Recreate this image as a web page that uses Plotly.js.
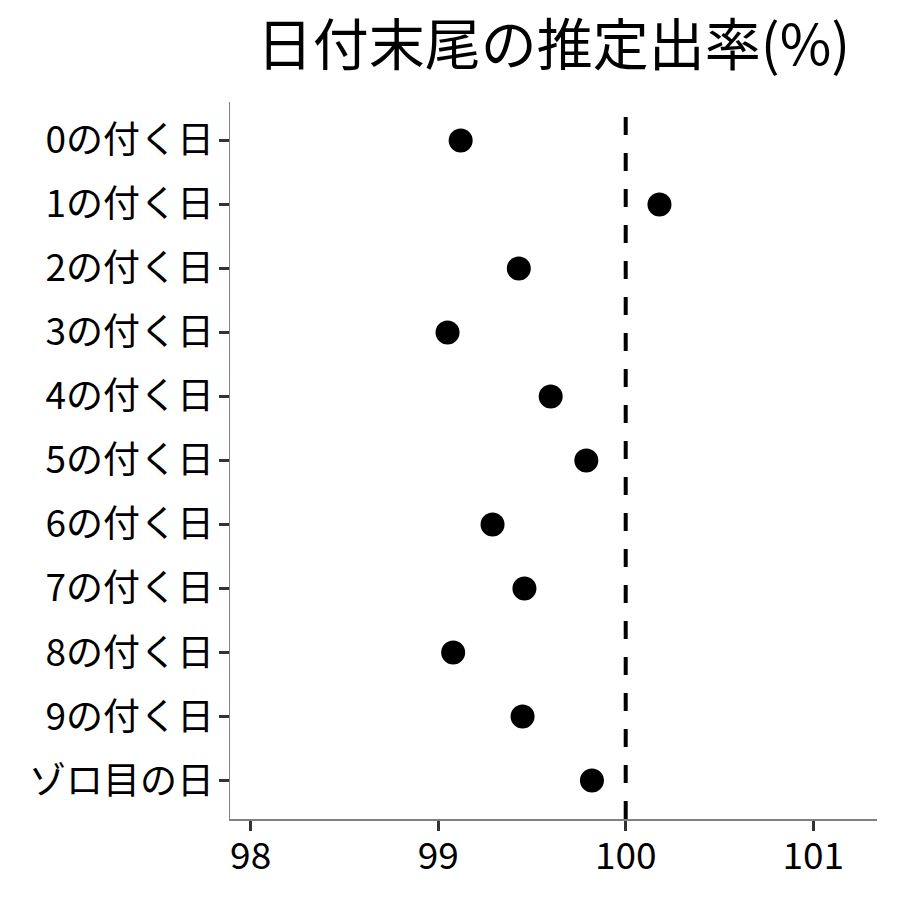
<!DOCTYPE html>
<html>
<head>
<meta charset="utf-8">
<script src="https://cdn.plot.ly/plotly-3.0.1.min.js"></script>
<style>html,body{margin:0;padding:0;background:#fff;}#chart{width:900px;height:900px;}</style>
</head>
<body>
<div id="chart"></div>
<script>
const categories = ["0の付く日","1の付く日","2の付く日","3の付く日","4の付く日","5の付く日","6の付く日","7の付く日","8の付く日","9の付く日","ゾロ目の日"];
const rates = [99.12, 100.18, 99.43, 99.05, 99.60, 99.79, 99.29, 99.46, 99.08, 99.45, 99.82];
const xTicks = [98, 99, 100, 101];
const referenceRate = 100;
const titleText = "日付末尾の推定出率(%)";

const font = "Noto Sans CJK JP, Noto Sans, sans-serif";

const trace = {
  type: "scatter",
  mode: "markers",
  x: rates,
  y: categories,
  marker: {color: "#000000", size: 24},
  cliponaxis: false,
  hoverinfo: "x+y"
};

const layout = {
  width: 900, height: 900,
  margin: {l: 230, r: 23, t: 102, b: 81, pad: 0},
  paper_bgcolor: "#ffffff",
  plot_bgcolor: "#ffffff",
  showlegend: false,
  title: {
    text: titleText,
    font: {family: font, size: 56, color: "#000000"},
    x: 0.5, xref: "paper",
    y: 0.95, yref: "container", yanchor: "middle"
  },
  xaxis: {
    range: [97.89, 101.34],
    tickvals: xTicks,
    ticktext: xTicks.map(String),
    showgrid: false, zeroline: false,
    showline: true, linecolor: "#808080", linewidth: 1.5,
    ticks: "outside", ticklen: 10, tickwidth: 3, tickcolor: "#333333",
    tickfont: {family: font, size: 37, color: "#000000"},
    ticklabelstandoff: -6
  },
  yaxis: {
    type: "category",
    categoryorder: "array",
    categoryarray: categories,
    range: [10.6, -0.6],
    showgrid: false, zeroline: false,
    showline: true, linecolor: "#808080", linewidth: 1.5,
    ticks: "outside", ticklen: 10, tickwidth: 3, tickcolor: "#333333",
    tickfont: {family: font, size: 37, color: "#000000"},
    ticklabelstandoff: -3
  },
  shapes: [{
    type: "line", xref: "x", yref: "paper",
    x0: referenceRate, x1: referenceRate, y0: 0, y1: 1,
    line: {color: "#000000", width: 4, dash: "18px,18px"},
    layer: "below"
  }]
};

Plotly.newPlot("chart", [trace], layout, {displayModeBar: false, staticPlot: true});
</script>
</body>
</html>
